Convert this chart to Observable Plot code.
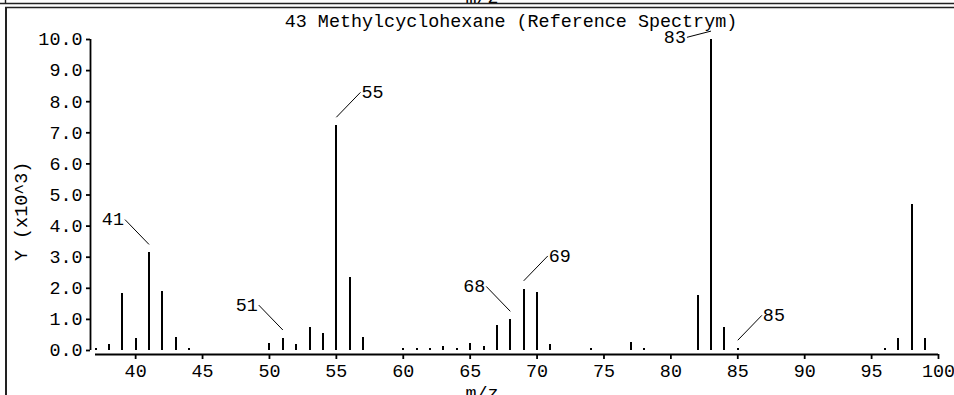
<!DOCTYPE html>
<html>
<head>
<meta charset="utf-8">
<script src="https://cdn.jsdelivr.net/npm/d3@7"></script>
<script src="https://cdn.jsdelivr.net/npm/@observablehq/plot@0.6"></script>
<style>
  html, body { margin: 0; padding: 0; background: #fff; }
  #chart svg { display: block; }
</style>
</head>
<body>
<div id="chart"></div>
<script>
// ---- data (intensity in thousands) ----
const titleText = "43 Methylcyclohexane (Reference Spectrym)";
const xLabel = "m/z";
const yLabel = "Y (x10^3)";
const mz = [37,38,39,40,41,42,43,44,50,51,52,53,54,55,56,57,60,61,62,63,64,65,66,67,68,69,70,71,74,77,78,82,83,84,85,96,97,98,99];
const intensity = [0.06,0.19,1.84,0.39,3.14,1.91,0.43,0.06,0.23,0.39,0.19,0.74,0.56,7.23,2.35,0.43,0.06,0.06,0.06,0.13,0.06,0.23,0.13,0.79,0.99,1.97,1.86,0.18,0.06,0.25,0.06,1.78,10.0,0.73,0.06,0.06,0.38,4.68,0.38];
const xTicks = [40,45,50,55,60,65,70,75,80,85,90,95,100];
const yTicks = [0,1,2,3,4,5,6,7,8,9,10];
const peakLabels = [41,51,55,68,69,83,85];
const labelSides = [-1,-1,1,-1,1,-1,1]; // -1 = label to the left, 1 = to the right

// ---- build tables ----
const peaks = mz.map((m, i) => ({mz: m, v: intensity[i]}));
const yMax = 10;
const ann = peakLabels.map((m, i) => {
  const v = intensity[mz.indexOf(m)];
  const side = labelSides[i];
  const y1 = v + 0.27;
  const rise = (v + 1.07 > yMax) ? -0.2 : 0.8;
  return {mz: m, side, x1: m, y1, x2: m + side * 1.8, y2: y1 + rise, text: String(m)};
});

const font = "Liberation Mono, DejaVu Sans Mono, monospace";
const fs = 18.4;

const plot = Plot.plot({
  width: 954,
  height: 395,
  marginLeft: 95,
  marginRight: 16,
  marginTop: 39,
  marginBottom: 41,
  insetBottom: 4,
  style: {fontFamily: font, fontSize: fs + "px", color: "#000", background: "#fff"},
  x: {domain: [37, 100]},
  y: {domain: [0, 10]},
  marks: [
    // x axis line
    Plot.ruleY([0], {dy: 4, stroke: "#000", strokeWidth: 1.8}),
    // y axis line
    Plot.ruleX([37], {y1: 0, y2: 10, dx: -5, stroke: "#000", strokeWidth: 1.8}),
    Plot.axisX({ticks: xTicks, tickSize: 5, tickPadding: 4, tickFormat: d => String(d), label: null, fontSize: fs, stroke: "#000", strokeWidth: 1.8}),
    Plot.axisY({ticks: yTicks, tickSize: 4, tickPadding: 4, dx: -5, tickFormat: d3.format(".1f"), label: null, fontSize: fs, stroke: "#000", strokeWidth: 1.8}),
    // spectrum sticks
    Plot.ruleX(peaks, {x: "mz", y1: 0, y2: "v", stroke: "#000", strokeWidth: 2, shapeRendering: "crispEdges"}),
    // leader lines
    Plot.link(ann, {x1: "x1", y1: "y1", x2: "x2", y2: "y2", stroke: "#000", strokeWidth: 1}),
    Plot.text(ann.filter(d => d.side < 0), {x: "x2", y: "y2", text: "text", textAnchor: "end", dx: -1, fontSize: fs, fill: "#000"}),
    Plot.text(ann.filter(d => d.side > 0), {x: "x2", y: "y2", text: "text", textAnchor: "start", dx: 1, fontSize: fs, fill: "#000"}),
    // title and axis labels
    Plot.text([titleText], {frameAnchor: "top", dx: -6, dy: -26, fontSize: fs, fill: "#000"}),
    Plot.text([yLabel], {frameAnchor: "left", rotate: -90, dx: -74, dy: 64, fontSize: fs, fill: "#000"}),
    Plot.text([xLabel], {frameAnchor: "bottom", dx: -35, dy: 31, lineAnchor: "top", fontSize: fs, fill: "#000"}),
    Plot.text([xLabel], {frameAnchor: "top", dx: -35, dy: -37, lineAnchor: "bottom", fontSize: fs, fill: "#000"})
  ]
});

document.getElementById("chart").appendChild(plot);

// decorative panel borders
const svg = d3.select(plot);
const g = svg.append("g").attr("stroke", "#222").attr("fill", "none");
g.append("line").attr("x1", 0).attr("x2", 954).attr("y1", 3.5).attr("y2", 3.5).attr("stroke-width", 1.4);
g.append("line").attr("x1", 5).attr("x2", 954).attr("y1", 7.5).attr("y2", 7.5).attr("stroke-width", 1.4);
g.append("line").attr("x1", 5.5).attr("x2", 5.5).attr("y1", 0).attr("y2", 3.5).attr("stroke-width", 1.4);
g.append("line").attr("x1", 6).attr("x2", 6).attr("y1", 7).attr("y2", 395).attr("stroke-width", 2);
</script>
</body>
</html>
